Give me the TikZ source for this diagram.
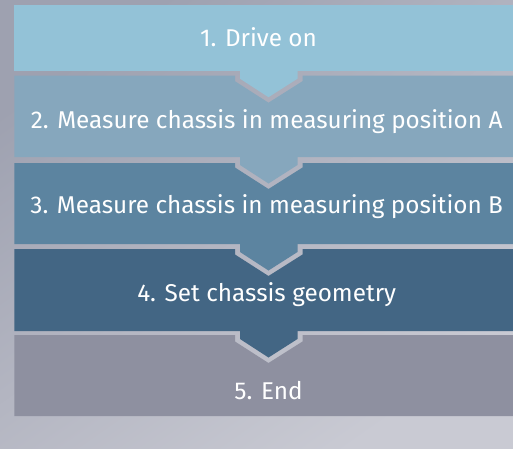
\documentclass[tikz,border=0pt]{standalone}
\usepackage{fontspec}
\setmainfont{Fira Sans}
\definecolor{bgA}{HTML}{9EA1B0}
\definecolor{bgB}{HTML}{C9CAD3}
\definecolor{cA}{HTML}{93C2D7}
\definecolor{cB}{HTML}{86A7BD}
\definecolor{cC}{HTML}{5C84A0}
\definecolor{cD}{HTML}{436684}
\definecolor{cE}{HTML}{8E90A0}
\tikzset{
  steptext/.style={text=white, font=\fontsize{24.3}{28}\selectfont, inner sep=0pt, anchor=base},
}
\begin{document}
\begin{tikzpicture}[x=1pt,y=-1pt]
\useasboundingbox (0,0) rectangle (513,448);
% background
\shade[top color=bgA, bottom color=bgB, shading angle=35] (0,0) rectangle (513,448);
% box 1
\fill[cA] (14.3,5) rectangle (513,70.7);
% box 2
\fill[cB] (14.3,75.7) -- (235,75.7) -- (235,81.2) -- (268.5,102.7) -- (302.5,81.2) -- (302.5,75.7) -- (513,75.7) -- (513,157) -- (14.3,157) -- cycle;
\fill[cA] (240,70) -- (240,78.7) -- (268.5,97.2) -- (297.5,78.7) -- (297.5,70) -- cycle;
% box 3
\fill[cC] (14.3,163) -- (235,163) -- (235,167.5) -- (268.5,189) -- (302.5,167.5) -- (302.5,163) -- (513,163) -- (513,244) -- (14.3,244) -- cycle;
\fill[cB] (240,156.5) -- (240,165) -- (268.5,183.5) -- (297.5,165) -- (297.5,156.5) -- cycle;
% box 4
\fill[cD] (14.3,249) -- (235,249) -- (235,254.5) -- (268.5,276) -- (302.5,254.5) -- (302.5,249) -- (513,249) -- (513,331) -- (14.3,331) -- cycle;
\fill[cC] (240,243.5) -- (240,252) -- (268.5,270.5) -- (297.5,252) -- (297.5,243.5) -- cycle;
% box 5
\fill[cE] (14.3,335) -- (235,335) -- (235,341.5) -- (268.5,363) -- (302.5,341.5) -- (302.5,335) -- (513,335) -- (513,416) -- (14.3,416) -- cycle;
\fill[cD] (240,330.5) -- (240,339) -- (268.5,357.5) -- (297.5,339) -- (297.5,330.5) -- cycle;
% texts
\node[steptext] (t1) at (258.5,46) {1. Drive on};
\node[steptext] (t2) at (266.7,128.3) {2. Measure chassis in measuring position A};
\node[steptext] (t3) at (266.7,213.3) {3. Measure chassis in measuring position B};
\node[steptext] (t4) at (266.7,301.7) {4. Set chassis geometry};
\node[steptext] (t5) at (268.5,399) {5. End};
\end{tikzpicture}
\end{document}
